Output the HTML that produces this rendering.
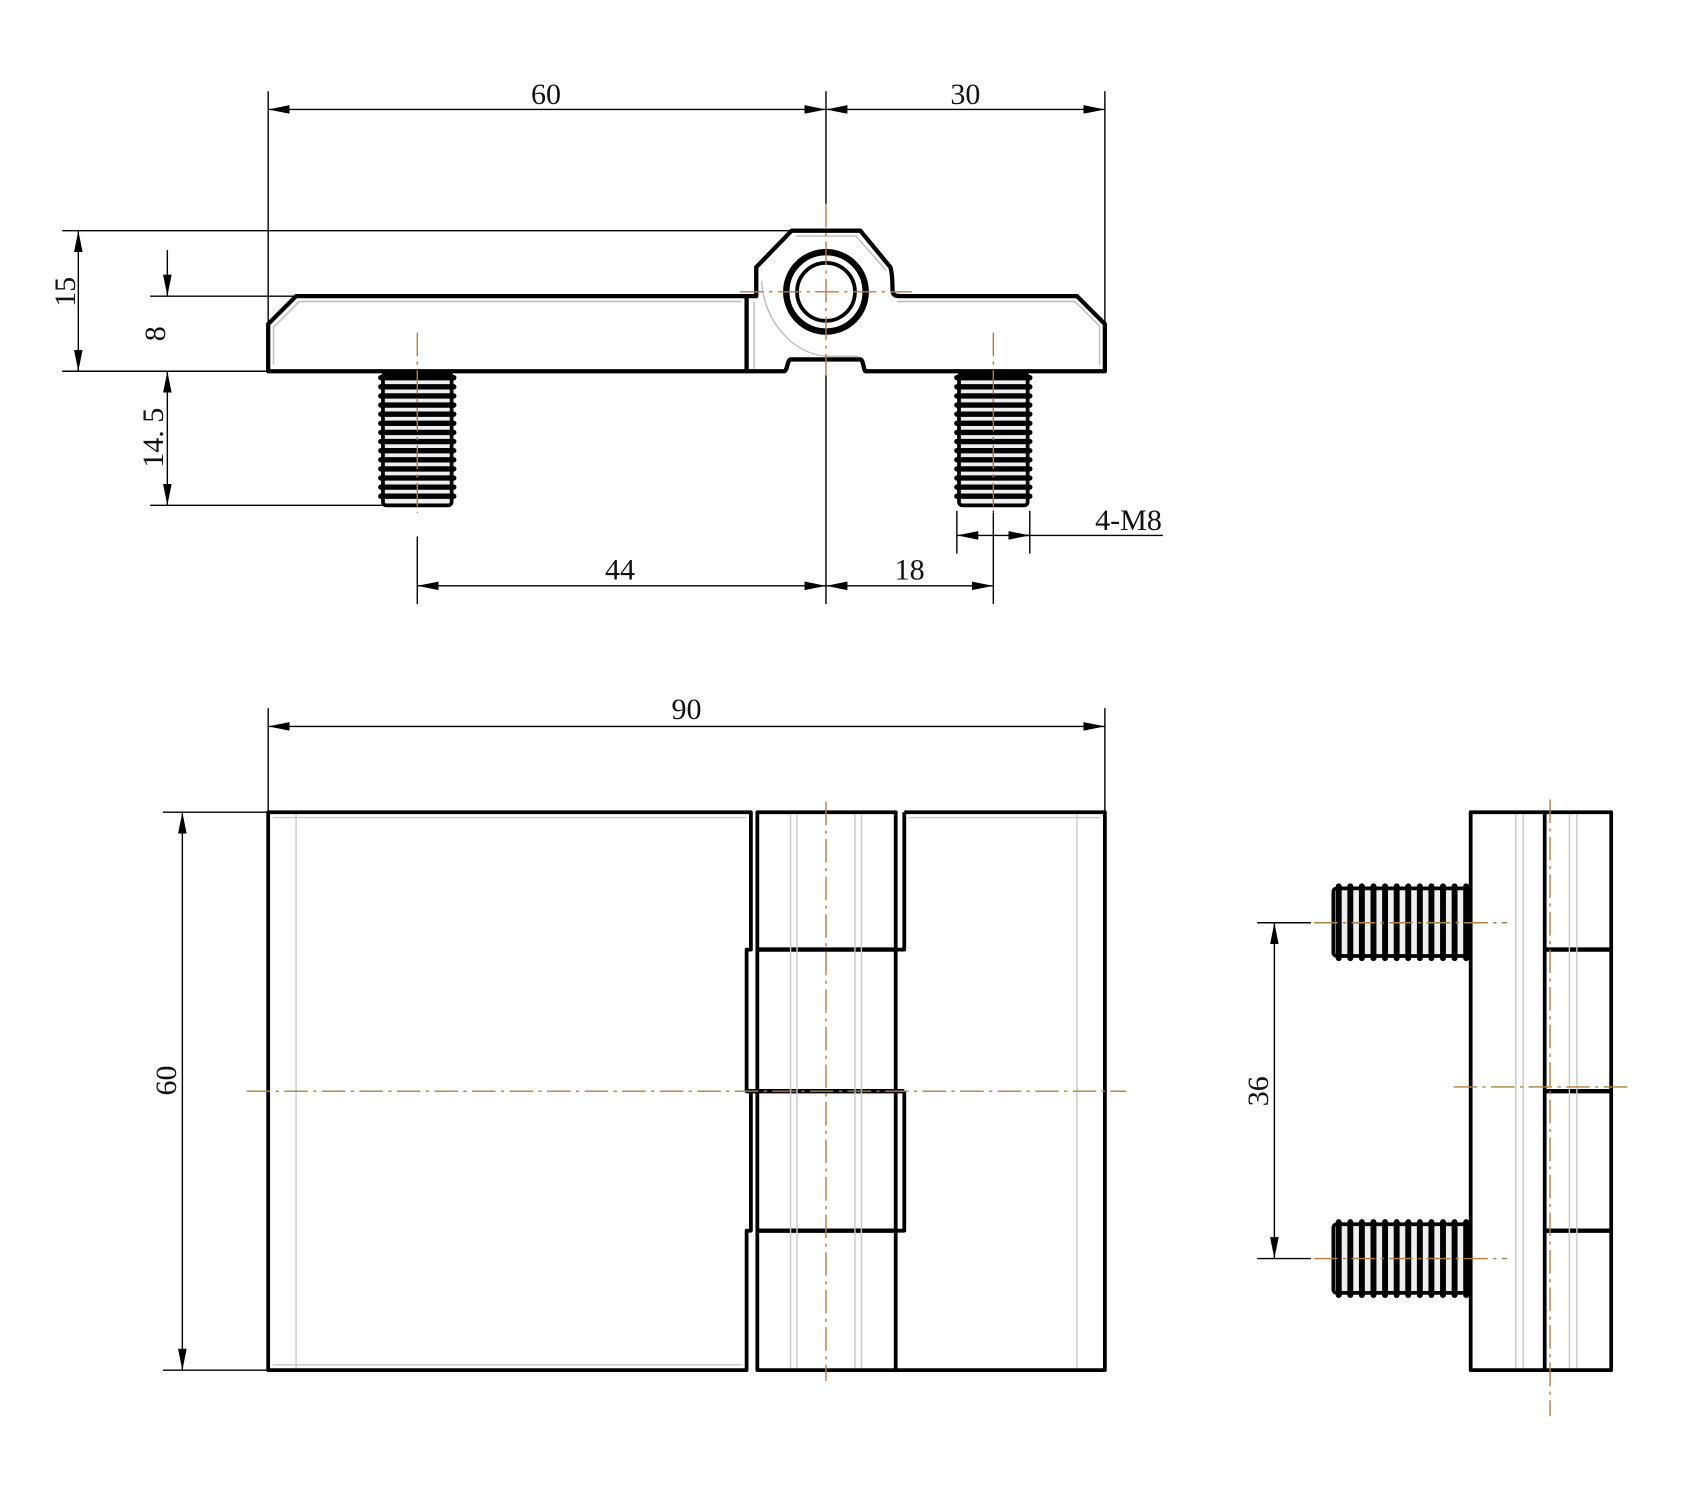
<!DOCTYPE html>
<html><head><meta charset="utf-8"><style>
html,body{margin:0;padding:0;background:#fff;}
svg{display:block}
text{font-family:"Liberation Serif",serif;font-size:28px;fill:#111}
</style></head><body>
<svg id="s" width="1682" height="1500" viewBox="0 0 1568 1398" preserveAspectRatio="none" xmlns="http://www.w3.org/2000/svg">
<defs>
<marker id="a" viewBox="0 0 20 8" refX="20" refY="4" markerWidth="20" markerHeight="8" markerUnits="userSpaceOnUse" orient="auto-start-reverse"><path d="M0,0 L20,4 L0,8 z" fill="#000"/></marker>
</defs>
<g stroke="#000" stroke-width="1.3" fill="none">
<line x1="250" y1="102" x2="770" y2="102" marker-start="url(#a)" marker-end="url(#a)"/>
<line x1="770" y1="102" x2="1030" y2="102" marker-start="url(#a)" marker-end="url(#a)"/>
<line x1="250" y1="85" x2="250" y2="346"/>
<line x1="770" y1="85" x2="770" y2="190"/>
<line x1="770" y1="350" x2="770" y2="563"/>
<line x1="1030" y1="85" x2="1030" y2="346"/>
<line x1="58" y1="215" x2="738" y2="215"/>
<line x1="140" y1="276" x2="276" y2="276"/>
<line x1="58" y1="346" x2="250" y2="346"/>
<line x1="140" y1="471" x2="360" y2="471"/>
<line x1="73" y1="215" x2="73" y2="346" marker-start="url(#a)" marker-end="url(#a)"/>
<line x1="156" y1="233" x2="156" y2="276" marker-end="url(#a)"/>
<line x1="156" y1="346" x2="156" y2="471" marker-start="url(#a)" marker-end="url(#a)"/>
<line x1="389" y1="500" x2="389" y2="563"/>
<line x1="926" y1="476" x2="926" y2="563"/>
<line x1="389" y1="546" x2="770" y2="546" marker-start="url(#a)" marker-end="url(#a)"/>
<line x1="770" y1="546" x2="926" y2="546" marker-start="url(#a)" marker-end="url(#a)"/>
<line x1="892" y1="476" x2="892" y2="516"/>
<line x1="960" y1="476" x2="960" y2="516"/>
<line x1="892" y1="499" x2="926" y2="499" marker-start="url(#a)"/>
<line x1="926" y1="499" x2="1084" y2="499"/>
<line x1="940" y1="499" x2="960" y2="499" marker-end="url(#a)"/>
<line x1="250" y1="677" x2="1030" y2="677" marker-start="url(#a)" marker-end="url(#a)"/>
<line x1="250" y1="660" x2="250" y2="757"/>
<line x1="1030" y1="660" x2="1030" y2="757"/>
<line x1="152" y1="757" x2="250" y2="757"/>
<line x1="152" y1="1277" x2="250" y2="1277"/>
<line x1="170" y1="757" x2="170" y2="1277" marker-start="url(#a)" marker-end="url(#a)"/>
<line x1="1172" y1="860" x2="1222" y2="860"/>
<line x1="1172" y1="1173" x2="1222" y2="1173"/>
<line x1="1188" y1="860" x2="1188" y2="1173" marker-start="url(#a)" marker-end="url(#a)"/>
</g>
<text x="509" y="97" text-anchor="middle">60</text>
<text x="900" y="97" text-anchor="middle">30</text>
<text x="578" y="540" text-anchor="middle">44</text>
<text x="848" y="540" text-anchor="middle">18</text>
<text x="1052" y="494" text-anchor="middle">4-M8</text>
<text x="640" y="670" text-anchor="middle">90</text>
<text transform="translate(70,272) rotate(-90)" text-anchor="middle">15</text>
<text transform="translate(154,311) rotate(-90)" text-anchor="middle">8</text>
<text transform="translate(152,408) rotate(-90)" text-anchor="middle">14. 5</text>
<text transform="translate(164,1007) rotate(-90)" text-anchor="middle">60</text>
<text transform="translate(1182,1017) rotate(-90)" text-anchor="middle">36</text>

<g fill="none" stroke-linejoin="round">
<path d="M250,346 V302 L276,276 H696 V346 Z" stroke="#000" stroke-width="4"/>
<path d="M255,340 V305 L279,281 H691" stroke="#bbb" stroke-width="1.3"/>
<path d="M696,276 H705 L705,262 L705,249 L738,215 H802 L830,249 C832,255 832,265 832,270 C832,276 836,276 840,276 H1004 L1030,302 V346 H807 C805,346 805,335 802,335 H737 C734,335 734,346 731,346 H696" stroke="#000" stroke-width="4"/>
<path d="M742,220 H798 L826,252 M710,262 C712,300 740,330 770,332 H800 M836,281 H1002 L1025,304 V340" stroke="#bbb" stroke-width="1.3"/>
<line x1="703" y1="281" x2="703" y2="344" stroke="#bbb" stroke-width="1.3"/>
<circle cx="770" cy="272" r="37" stroke="#000" stroke-width="6"/>
<circle cx="770" cy="272" r="27" stroke="#000" stroke-width="3.5"/>
</g>
<g id="threads"></g>
<g fill="none" stroke-linejoin="round">
<path d="M250,757 H700 V885 H696 V1017 H700 V1147 H696 V1277 H250 Z" stroke="#000" stroke-width="3.5"/>
<path d="M843,757 H1030 V1277 H835 M843,757 V885 H835 M843,1017 V1147 H835" stroke="#000" stroke-width="3.5"/>
<rect x="706" y="757" width="129" height="520" stroke="#000" stroke-width="3.5"/>
<path d="M706,885 H835 M696,1017 H843 M706,1147 H835" stroke="#000" stroke-width="4"/>
<path d="M276,759 V1275 M1004,759 V1275 M737,759 V1275 M743,759 V1275 M797,759 V1275 M803,759 V1275 M254,762 H696 M847,762 H1026 M254,1272 H692" stroke="#c8c8c8" stroke-width="1.3"/>
<rect x="1371" y="757" width="131" height="520" stroke="#000" stroke-width="3.5"/>
<line x1="1440" y1="757" x2="1440" y2="1277" stroke="#000" stroke-width="3.5"/>
<path d="M1440,885 H1502 M1440,1017 H1502 M1440,1147 H1502" stroke="#000" stroke-width="4"/>
<path d="M1413,759 V1275 M1420,759 V1275 M1463,759 V1275 M1470,759 V1275" stroke="#c8c8c8" stroke-width="1.3"/>
</g>
<g stroke="#b08040" stroke-width="1.3" fill="none" stroke-dasharray="22,5,3,5">
<line x1="690" y1="272" x2="850" y2="272"/>
<line x1="770" y1="190" x2="770" y2="350"/>
<line x1="389" y1="310" x2="389" y2="478"/>
<line x1="926" y1="310" x2="926" y2="478"/>
<line x1="230" y1="1017" x2="1050" y2="1017"/>
<line x1="770" y1="747" x2="770" y2="1287"/>
<line x1="1445" y1="745" x2="1445" y2="1320"/>
<line x1="1355" y1="1013" x2="1520" y2="1013"/>
<line x1="1225" y1="860" x2="1405" y2="860"/>
<line x1="1225" y1="1173" x2="1405" y2="1173"/>
</g>
</svg>
<script>
var g=document.getElementById('threads'),ns='http://www.w3.org/2000/svg';
function el(t,a){var e=document.createElementNS(ns,t);for(var k in a)e.setAttribute(k,a[k]);g.appendChild(e);}
function vscrew(x1,x2,y1,y2){el('rect',{x:x1+2,y:y1,width:x2-x1-4,height:y2-y1,fill:'#eee',stroke:'#000','stroke-width':3.5,rx:3});
for(var y=y1+4;y<y2-1;y+=8.5){el('line',{x1:x1,y1:y,x2:x2,y2:y,stroke:'#000','stroke-width':5,'stroke-linecap':'round'});}}
function hscrew(x1,x2,y1,y2){el('rect',{x:x1,y:y1+2,width:x2-x1,height:y2-y1-4,fill:'#eee',stroke:'#000','stroke-width':3.5,rx:3});
for(var x=x1+5;x<x2-1;x+=10.8){el('line',{x1:x,y1:y1,x2:x,y2:y2,stroke:'#000','stroke-width':5.5,'stroke-linecap':'round'});}}
vscrew(355,423,348,471);vscrew(892,960,348,471);
hscrew(1243,1369,826,893);hscrew(1243,1369,1139,1207);
</script>
</body></html>
